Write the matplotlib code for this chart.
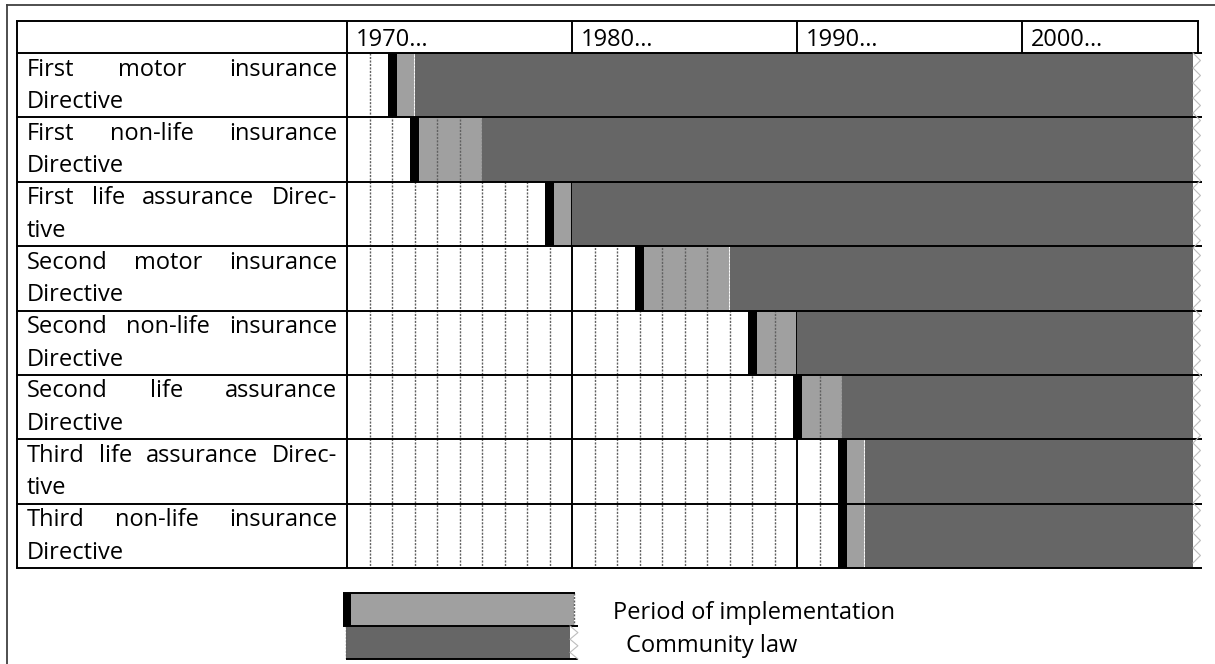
import numpy as np
import matplotlib
matplotlib.use("Agg")
import matplotlib.pyplot as plt
from matplotlib.lines import Line2D

plt.rcParams['font.family'] = ['Open Sans', 'DejaVu Sans']

# Zeilen der Tabelle (zweizeilige Beschriftung, erste Zeile im Blocksatz)
label_lines = [
    ["First motor insurance", "Directive"],
    ["First non-life insurance", "Directive"],
    ["First life assurance Direc-", "tive"],
    ["Second motor insurance", "Directive"],
    ["Second non-life insurance", "Directive"],
    ["Second life assurance", "Directive"],
    ["Third life assurance Direc-", "tive"],
    ["Third non-life insurance", "Directive"],
]
adopted = [1972, 1973, 1979, 1983, 1988, 1990, 1992, 1992]   # Verabschiedung (schwarzer Balken)
in_force = [1973, 1976, 1980, 1987, 1990, 1992, 1993, 1993]  # Ende der Umsetzungsfrist
decades = [1970, 1980, 1990, 2000]
decade_labels = ["1970…", "1980…", "1990…", "2000…"]
legend_labels = ["Period of implementation", "Community law"]

W, H = 1215, 664
YEAR_PX = 22.5
X0 = 1970 - 330 / YEAR_PX
X_END = 2008
HEAD = -32 / 64.375

C_LIGHT = "#a0a0a0"
C_DARK = "#666666"
LW = 1.4
FS = 17


def px_box(x0, y0, x1, y1):
    return [x0 / W, 1 - y1 / H, (x1 - x0) / W, (y1 - y0) / H]


fig = plt.figure(figsize=(W / 100, H / 100), dpi=100)
ax = fig.add_axes(px_box(17, 21, 1202, 568))
ax.set_xlim(X0, X_END)
ax.set_ylim(8, HEAD)
ax.axis("off")

rows = np.arange(len(adopted))
adopted_a = np.array(adopted, dtype=float)
in_force_a = np.array(in_force, dtype=float)

# === Balken ===
ax.barh(rows, 0.4, left=adopted_a - 0.2, height=1, align="edge", color="black", zorder=3)
ax.barh(rows, in_force_a - adopted_a - 0.2, left=adopted_a + 0.2, height=1, align="edge",
        color=C_LIGHT, zorder=1)
ax.barh(rows, 2007.6 - in_force_a, left=in_force_a, height=1, align="edge", color=C_DARK, zorder=4)

# Jahreslinien (gestrichelt) und Dekadenlinien
years = [y for y in range(1971, 2008) if y % 10]
ax.vlines(years, 0, 8, colors="#606060", linestyles=(0, (1.5, 1.0)), linewidth=1.0, zorder=2)
ax.vlines(decades[1:], HEAD, 8, colors="black", linewidth=LW, zorder=2, clip_on=False)
ax.vlines([X0, 1970], HEAD, 8, colors="black", linewidth=LW, zorder=5, clip_on=False)
ax.vlines(2007.82, HEAD, 0, colors="black", linewidth=LW, zorder=5, clip_on=False)
ax.hlines(HEAD, X0 - 0.03, 2007.85, colors="black", linewidth=LW, zorder=5, clip_on=False)
ax.hlines(np.arange(0, 9), X0 - 0.03, X_END, colors="black", linewidth=LW, zorder=5, clip_on=False)

# Abrisskante rechts
zz_y = np.arange(0, 8.0001, 0.1165)
zz_x = np.where(np.arange(len(zz_y)) % 2 == 0, 2007.6, 2007.93)
ax.plot(zz_x, zz_y, color="#bdbdbd", linewidth=0.8, zorder=6, clip_on=False)

# Kopfzeile
for d, lab in zip(decades, decade_labels):
    ax.text(d + 0.4, HEAD + 25 / 64.375, lab, fontsize=FS, va="baseline", ha="left")

# Beschriftung im Blocksatz
renderer = fig.canvas.get_renderer()
px_per_year = ax.transData.transform((1, 0))[0] - ax.transData.transform((0, 0))[0]
TXT_L = X0 + 10 / YEAR_PX
TXT_R = X0 + 320 / YEAR_PX


def justified(text, y):
    words = text.split()
    objs = [ax.text(TXT_L, y, w, fontsize=FS, va="baseline", ha="left") for w in words]
    if len(objs) < 2:
        return
    widths = [o.get_window_extent(renderer).width / px_per_year for o in objs]
    gap = (TXT_R - TXT_L - sum(widths)) / (len(objs) - 1)
    x = TXT_L
    for o, w in zip(objs, widths):
        o.set_x(x)
        x += w + gap


for i, (l1, l2) in enumerate(label_lines):
    justified(l1, i + 0.35)
    ax.text(TXT_L, i + 0.855, l2, fontsize=FS, va="baseline", ha="left")

# === Legende ===
lg = fig.add_axes(px_box(343, 593, 578, 659))
lg.set_xlim(0, 235 / YEAR_PX)
lg.set_ylim(2, 0)
lg.axis("off")
lg.barh(0, 0.37, left=0, height=1, align="edge", color="black", zorder=3)
lg.barh(0, 10.27 - 0.37, left=0.37, height=1, align="edge", color=C_LIGHT, zorder=1)
lg.barh(1, 10.09 - 0.15, left=0.15, height=1, align="edge", color=C_DARK, zorder=1)
lg.hlines(0, 0, 10.3, colors="black", linewidth=LW, zorder=5, clip_on=False)
lg.hlines(1, 0, 10.44, colors="black", linewidth=LW, zorder=5, clip_on=False)
lg.hlines(2, 0.15, 10.44, colors="black", linewidth=LW, zorder=5, clip_on=False)
lg.vlines(10.27, 0, 1, colors="#606060", linestyles=(0, (1.5, 1.0)), linewidth=1.0, zorder=2)
lg.vlines(0.15, 1, 2, colors="#606060", linestyles=(0, (1.5, 1.0)), linewidth=1.0, zorder=2)
lz_y = np.arange(1, 2.0001, 0.2)
lz_x = np.where(np.arange(len(lz_y)) % 2 == 0, 10.09, 10.44)
lg.plot(lz_x, lz_y, color="#bdbdbd", linewidth=0.8, zorder=6, clip_on=False)

fig.text(613 / W, 1 - 619 / H, legend_labels[0], fontsize=FS, va="baseline", ha="left")
fig.text(626 / W, 1 - 652 / H, legend_labels[1], fontsize=FS, va="baseline", ha="left")

# äußerer Rahmen
fig.add_artist(Line2D([7 / W, 7 / W], [0, 1 - 5 / H], color="#404040", linewidth=1.3))
fig.add_artist(Line2D([7 / W, 1], [1 - 5 / H, 1 - 5 / H], color="#404040", linewidth=1.3))

fig.savefig("out.png", dpi=100)
